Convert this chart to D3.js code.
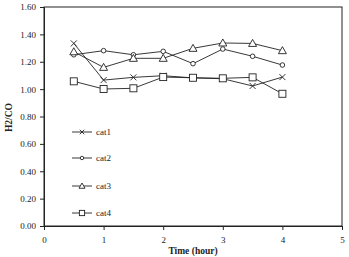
<!DOCTYPE html>
<html><head><meta charset="utf-8">
<script src="https://cdn.jsdelivr.net/npm/d3@7"></script>
<style>body{margin:0;background:#fff}svg{display:block}</style>
</head><body><svg id="c" width="349" height="257"></svg>
<script>
const times = [0.5, 1, 1.5, 2, 2.5, 3, 3.5, 4];
const seriesNames = ["cat1", "cat2", "cat3", "cat4"];
const cat1 = [1.334, 1.066, 1.086, 1.098, 1.082, 1.076, 1.023, 1.088];
const cat2 = [1.251, 1.281, 1.251, 1.276, 1.186, 1.293, 1.240, 1.176];
const cat3 = [1.273, 1.159, 1.225, 1.225, 1.298, 1.337, 1.334, 1.281];
const cat4 = [1.057, 1.001, 1.006, 1.088, 1.083, 1.079, 1.086, 0.966];
const yTicks = [0, 0.2, 0.4, 0.6, 0.8, 1.0, 1.2, 1.4, 1.6];
const xTicks = [0, 1, 2, 3, 4, 5];
const markers = ["x", "circle", "triangle", "square"];

const svg = d3.select("#c");
const L = 44, R = 342, T = 7, B = 226;
const x = d3.scaleLinear().domain([0, 5]).range([L, R]);
const y = d3.scaleLinear().domain([0, 1.6]).range([B, T]);
const font = "'Liberation Serif','Times New Roman',serif";

svg.append("rect").attr("x", L).attr("y", T).attr("width", R - L).attr("height", B - T)
  .attr("fill", "none").attr("stroke", "#222").attr("stroke-width", 1);

const ya = svg.append("g").attr("transform", `translate(${L},0)`)
  .call(d3.axisLeft(y).tickValues(yTicks).tickFormat(d3.format(".2f")).tickSize(4).tickPadding(4));
const xa = svg.append("g").attr("transform", `translate(0,${B})`)
  .call(d3.axisBottom(x).tickValues(xTicks).tickFormat(d3.format("d")).tickSize(4).tickPadding(7));
[ya, xa].forEach(a => {
  a.selectAll("path,line").attr("stroke", "#222");
  a.selectAll("text").attr("font-family", font).attr("font-size", 9).attr("fill", "#222");
});

svg.append("text").attr("transform", `translate(12,${(T + B) / 2 + 1}) rotate(-90)`)
  .attr("text-anchor", "middle").attr("font-family", font).attr("font-size", 9.5)
  .attr("font-weight", "bold").attr("fill", "#222").text("H2/CO");
svg.append("text").attr("x", (L + R) / 2).attr("y", 254).attr("text-anchor", "middle")
  .attr("font-family", font).attr("font-size", 9.5).attr("font-weight", "bold").attr("fill", "#222").text("Time (hour)");

const data = [cat1, cat2, cat3, cat4];
const line = d3.line().x((d, i) => x(times[i])).y(d => y(d));

function drawMarker(g, type, cx, cy, k) {
  let m;
  if (type === "x") {
    const h = 3 * k;
    m = g.append("path").attr("d", `M${cx-h},${cy-h}L${cx+h},${cy+h}M${cx-h},${cy+h}L${cx+h},${cy-h}`).attr("fill", "none");
  } else if (type === "circle") {
    m = g.append("circle").attr("cx", cx).attr("cy", cy).attr("r", 2.3 * k);
  } else if (type === "triangle") {
    m = g.append("path").attr("d", `M${cx},${cy-4*k}L${cx+4*k},${cy+3*k}L${cx-4*k},${cy+3*k}Z`);
  } else {
    m = g.append("rect").attr("x", cx - 3.5 * k).attr("y", cy - 3.5 * k).attr("width", 7 * k).attr("height", 7 * k);
  }
  m.attr("stroke", "#222").attr("stroke-width", 0.9);
  if (type !== "x") m.attr("fill", "#fff");
}

data.forEach((vals, k) => {
  const g = svg.append("g");
  g.append("path").attr("d", line(vals)).attr("fill", "none").attr("stroke", "#222").attr("stroke-width", 0.9);
  vals.forEach((v, i) => drawMarker(g, markers[k], x(times[i]), y(v), 1));
});

const legY = [132, 158, 186, 213];
seriesNames.forEach((n, k) => {
  const g = svg.append("g");
  g.append("line").attr("x1", 72).attr("x2", 92).attr("y1", legY[k]).attr("y2", legY[k]).attr("stroke", "#222").attr("stroke-width", 0.9);
  drawMarker(g, markers[k], 82, legY[k], 0.75);
  g.append("text").attr("x", 96).attr("y", legY[k] + 3).attr("font-family", font).attr("font-size", 9).attr("fill", "#222").text(n);
});
</script></body></html>
